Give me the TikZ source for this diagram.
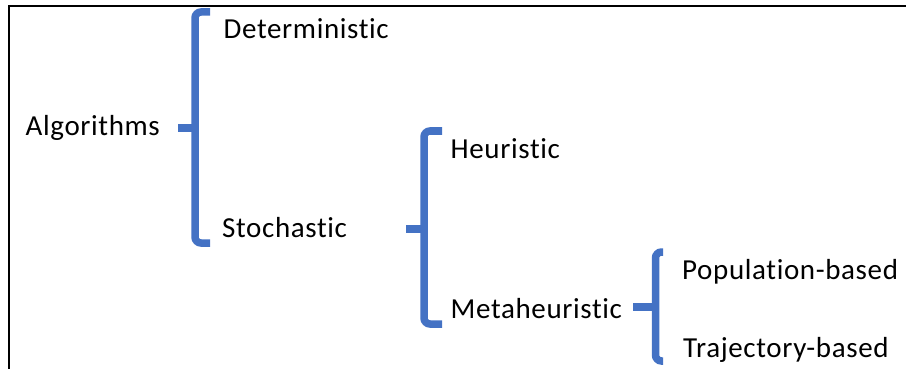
\documentclass[tikz,border=0pt]{standalone}
\usepackage{fontspec}
\setmainfont{Carlito}[RawFeature=-liga, LetterSpace=2.2]
\definecolor{brkblue}{HTML}{4472C4}
\begin{document}
\begin{tikzpicture}[x=1pt,y=-1pt,
  brk/.style={draw=brkblue, line width=7.5pt, rounded corners=6pt},
  stem/.style={draw=brkblue, line width=7.5pt},
  lbl/.style={anchor=base west, inner sep=0pt, font=\fontsize{29}{34}\selectfont}]
\useasboundingbox (0,0) rectangle (906,369);
% frame
\draw[line width=1.6pt] (9,369) -- (9,6) -- (906,6);

% labels
\node[lbl] (alg)  at (25.5,135.3)  {Algorithms};
\node[lbl] (det)  at (223.5,38.3)  {Deterministic};
\node[lbl] (sto)  at (222,237.3)   {Stochastic};
\node[lbl] (heu)  at (450.5,158.3) {Heuristic};
\node[lbl] (meta) at (450.5,318.3) {Metaheuristic};
\node[lbl] (pop)  at (682,279.3)   {Population-based};
\node[lbl] (traj) at (683,357.3)   {Trajectory-based};

% bracket points
\coordinate (b1t) at (210,12);  \coordinate (b1b) at (210,243);
\coordinate (b1s) at (178,128); \coordinate (b1x) at (195,128);
\coordinate (b2t) at (442,131); \coordinate (b2b) at (442,324);
\coordinate (b2s) at (406,229); \coordinate (b2x) at (424,229);
\coordinate (b3t) at (663,252); \coordinate (b3b) at (663,361);
\coordinate (b3s) at (633,307); \coordinate (b3x) at (655.5,307);

% Algorithms -> Deterministic / Stochastic
\draw[brk] (b1t) -- (b1x |- b1t) -- (b1x |- b1b) -- (b1b);
\draw[stem] (b1s) -- (b1x);
% Stochastic -> Heuristic / Metaheuristic
\draw[brk] (b2t) -- (b2x |- b2t) -- (b2x |- b2b) -- (b2b);
\draw[stem] (b2s) -- (b2x);
% Metaheuristic -> Population-based / Trajectory-based
\draw[brk] (b3t) -- (b3x |- b3t) -- (b3x |- b3b) -- (b3b);
\draw[stem] (b3s) -- (b3x);
\end{tikzpicture}
\end{document}
